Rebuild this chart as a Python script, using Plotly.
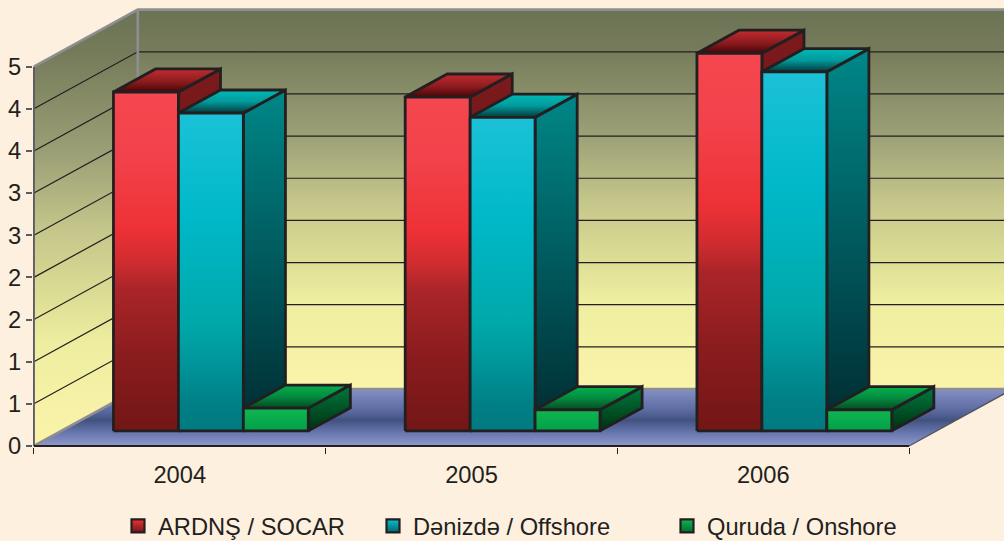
import plotly.graph_objects as go

# --- data ---
categories = ["2004", "2005", "2006"]
socar = [4.02, 3.96, 4.48]
offshore = [3.77, 3.72, 4.26]
onshore = [0.27, 0.25, 0.25]
series_names = ["ARDNŞ / SOCAR", "Dənizdə / Offshore", "Quruda / Onshore"]
y_ticks = [0, 0.5, 1, 1.5, 2, 2.5, 3, 3.5, 4, 4.5]
y_labels = ["0", "1", "1", "2", "2", "3", "3", "4", "4", "5"]

# --- oblique projection of the pseudo-3D box ---
PX_X, PX_Y = 292.0, 84.3     # px per category, px per value
DX, DY = 104 / PX_X, 57 / PX_Y   # shift for the whole chart depth
YMAX = 4.5
BAR_W = 65 / PX_X
BAR_OFF = 52.1 / PX_X
D0, D1 = 0.265, 0.67
INK = "#231f20"
GREY = "#8e8e92"
PAGE = "#fef0df"
XEND = (1004 - 33) / PX_X
LEGEND_X = [118, 373, 667]


def P(x, y, d=0.0):
    return x + d * DX, y + d * DY


def poly(points, colorscale, line=INK, width=2.8):
    xs, ys = zip(*(points + points[:1]))
    return go.Scatter(
        x=xs, y=ys, mode="lines", fill="toself",
        fillgradient=dict(type="vertical", colorscale=colorscale),
        line=dict(color=line, width=width), hoverinfo="skip", showlegend=False,
    )


def path(points, color, width):
    xs = [p[0] if p else None for p in points]
    ys = [p[1] if p else None for p in points]
    return go.Scatter(x=xs, y=ys, mode="lines", line=dict(color=color, width=width),
                      hoverinfo="skip", showlegend=False)


WALL = [[0, "#f9f4aa"], [0.10, "#f6f1a6"], [0.235, "#eeeea0"], [0.37, "#d8d992"], [0.5, "#c4c58a"],
        [0.67, "#9ba076"], [0.9, "#757b5a"], [1, "#6b7355"]]
FLOOR = [[0, "#8f99cc"], [0.28, "#5f6fa6"], [0.45, "#42527f"], [0.62, "#5a6aa0"], [1, "#8690c4"]]

STYLES = [
    dict(front=[[0, "#731616"], [0.22, "#8a1c1e"], [0.42, "#aa2528"], [0.5, "#d02c30"], [0.6, "#ee3136"],
                [0.8, "#f2414a"], [1, "#f5474f"]],
         top=[[0, "#4a0406"], [0.45, "#8c1b1e"], [1, "#c22c30"]],
         side=[[0, "#5e1012"], [1, "#7c1a1c"]], swatch="#ee3136", swatch2="#731616"),
    dict(front=[[0, "#007a80"], [0.08, "#007f85"], [0.24, "#009a9e"], [0.35, "#00a9ab"], [0.69, "#00b9ca"],
                [1, "#1cc1d7"]],
         top=[[0, "#03393b"], [0.5, "#029a9c"], [1, "#00bab6"]],
         side=[[0, "#002b30"], [0.45, "#005559"], [1, "#008788"]], swatch="#08bfd0", swatch2="#00686d"),
    dict(front=[[0, "#00a049"], [1, "#10b650"]],
         top=[[0, "#044a22"], [0.5, "#038a3f"], [1, "#04b04c"]],
         side=[[0, "#003013"], [1, "#007a3c"]], swatch="#10b650", swatch2="#006e34"),
]

traces = []
# back wall, side wall, floor
traces.append(poly([P(0, 0, 1), P(XEND, 0, 1), P(XEND, YMAX, 1), P(0, YMAX, 1)], WALL, line=GREY, width=0))
traces.append(poly([P(0, 0), P(0, 0, 1), P(0, YMAX, 1), P(0, YMAX)], WALL, line=GREY, width=0))
traces.append(poly([P(0, 0), P(3, 0), P(3, 0, 1), P(XEND, 0, 1), P(XEND, 0, 1), P(0, 0, 1)], FLOOR, line=GREY, width=0))

# gridlines
grid = []
for v in y_ticks[1:-1]:
    grid += [P(0, v), P(0, v, 1), P(XEND, v, 1), None]
traces.append(path(grid, INK, 1.2))

# wall and floor edges
traces.append(path([P(0, YMAX), P(0, YMAX, 1), P(XEND, YMAX, 1), None, P(0, YMAX, 1), P(0, 0, 1), None,
                    P(0, 0), P(0, 0, 1), P(XEND, 0, 1)], GREY, 2.6))
traces.append(path([P(3, 0), P(3, 0, 1)], "#55555a", 1.4))
traces.append(path([P(0, 0), P(0, YMAX)], "#5c5c62", 2))
traces.append(path([P(0, 0), P(3, 0)], INK, 1.8))

# bars
for c in range(len(categories)):
    for s, vals in enumerate([socar, offshore, onshore]):
        v = vals[c]
        st = STYLES[s]
        x0 = c + BAR_OFF + s * BAR_W
        x1 = x0 + BAR_W
        traces.append(poly([P(x1, 0, D0), P(x1, 0, D1), P(x1, v, D1), P(x1, v, D0)], st["side"]))
        traces.append(poly([P(x0, v, D0), P(x1, v, D0), P(x1, v, D1), P(x0, v, D1)], st["top"]))
        traces.append(poly([P(x0, 0, D0), P(x1, 0, D0), P(x1, v, D0), P(x0, v, D0)], st["front"]))

# legend entries: one legend per series so that each sits at its own place
legend_names = ["legend", "legend2", "legend3"]
for s, name in enumerate(series_names):
    st = STYLES[s]
    traces.append(go.Scatter(
        x=[None], y=[None], mode="markers", name=name, legend=legend_names[s],
        marker=dict(symbol="square", size=13, color=st["swatch"],
                    gradient=dict(type="vertical", color=st["swatch2"]),
                    line=dict(color=INK, width=2.2)),
    ))

fig = go.Figure(traces)
fig.update_layout(
    width=1004, height=541, autosize=False,
    margin=dict(l=33, r=0, t=0, b=94, pad=0),
    paper_bgcolor=PAGE, plot_bgcolor=PAGE,
    font=dict(family="Liberation Sans, Arial, sans-serif", size=23.7, color=INK),
    showlegend=True,
)
for s, key in enumerate(legend_names):
    fig.update_layout({key: dict(
        orientation="h", xref="container", yref="container",
        x=LEGEND_X[s] / 1004, xanchor="left", y=(541 - 526) / 541, yanchor="middle",
        bgcolor="rgba(0,0,0,0)", font=dict(size=23.7), itemclick=False, itemdoubleclick=False,
    )})
fig.update_xaxes(
    range=[-0.003, XEND], showgrid=False, zeroline=False, showline=False,
    tickmode="array", tickvals=[i + 0.5 for i in range(3)], ticktext=categories,
    ticks="", ticklabelstandoff=11,
    minor=dict(tickmode="array", tickvals=[0, 1, 2, 3], ticks="outside", ticklen=6, tickwidth=1.4,
               tickcolor=INK, showgrid=False),
)
fig.update_yaxes(
    range=[-0.012, 446 / PX_Y], showgrid=False, zeroline=False, showline=False,
    tickmode="array", tickvals=y_ticks, ticktext=y_labels,
    ticks="outside", ticklen=6, tickwidth=1.6, tickcolor="#5c5c62", ticklabelstandoff=0,
)
fig.write_html("out.html", config=dict(displayModeBar=False),
               post_script="document.body.style.margin='0';document.body.style.overflow='hidden';")
